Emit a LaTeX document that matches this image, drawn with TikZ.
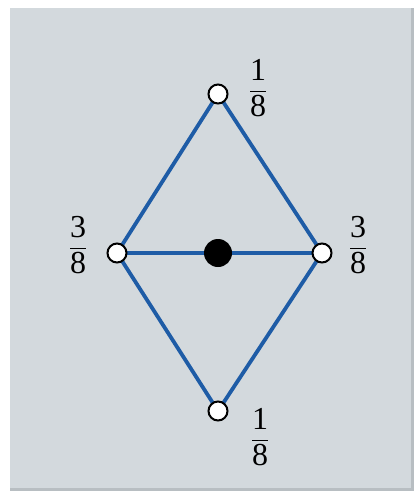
\documentclass[tikz,border=0pt]{standalone}
\usepackage{amsmath}
\usepackage{fontspec}
\setmainfont{Liberation Serif}
\definecolor{panel}{RGB}{211,217,221}
\definecolor{paneledge}{RGB}{184,190,194}
\definecolor{edgeblue}{RGB}{30,92,166}
\tikzset{
  vtx/.style={circle, draw=black, fill=white, line width=2pt, minimum size=19pt, inner sep=0pt},
  ctr/.style={circle, fill=black, minimum size=28pt, inner sep=0pt},
  link/.style={draw=edgeblue, line width=3.8pt},
  wt/.style={inner sep=0pt, font=\fontsize{32}{38}\selectfont}
}
\newcommand\wfrac[2]{$\dfrac{\text{#1}}{\text{#2}}$}
\begin{document}
\begin{tikzpicture}[x=1pt,y=-1pt]
\useasboundingbox (0,0) rectangle (420,498);
\fill[white] (0,0) rectangle (420,498);
\fill[paneledge] (10,8) rectangle (414,491);
\fill[panel] (10,8) rectangle (411,488);
\coordinate (t) at (218,94);
\coordinate (l) at (117,253);
\coordinate (r) at (322,253);
\coordinate (b) at (218,411);
\coordinate (c) at (218,253);
\draw[link] (t) -- (l) -- (b) -- (r) -- cycle;
\draw[link] (l) -- (r);
\node[ctr] (cn) at (c) {};
\node[vtx] (tn) at (t) {};
\node[vtx] (ln) at (l) {};
\node[vtx] (rn) at (r) {};
\node[vtx] (bn) at (b) {};
\node[wt] (tw) at (258,88) {\wfrac{1}{8}};
\node[wt] (lw) at (78,245) {\wfrac{3}{8}};
\node[wt] (rw) at (358,245) {\wfrac{3}{8}};
\node[wt] (bw) at (260,437) {\wfrac{1}{8}};
\end{tikzpicture}
\end{document}
